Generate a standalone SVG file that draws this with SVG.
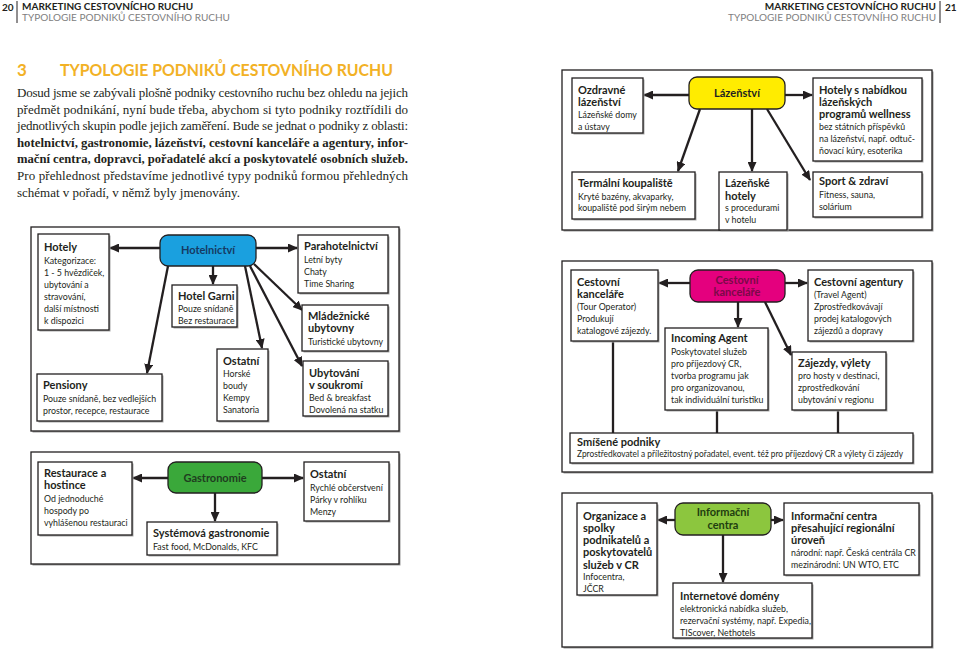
<svg xmlns="http://www.w3.org/2000/svg" width="960" height="656" viewBox="0 0 960 656">
<defs>
<marker id="ah" markerUnits="userSpaceOnUse" markerWidth="10" markerHeight="9" refX="9" refY="4.5" orient="auto">
<path d="M0,0 L10,4.5 L0,9 z" fill="#231f20"/>
</marker>
</defs>
<style>
.frame{fill:#fff;stroke:#231f20;stroke-width:1.3}
.fsh{fill:#9a9a9a}
.box{fill:#fff;stroke:#231f20;stroke-width:1.3}
.sh{fill:#a8a8a8}
.hub{stroke:#231f20;stroke-width:1.3}
.t{font-family:Lato,"Liberation Sans",sans-serif;font-size:11px;font-weight:bold;fill:#231f20}
.b{font-family:Lato,"Liberation Sans",sans-serif;font-size:8.8px;fill:#231f20}
.ht{font-family:Lato,"Liberation Sans",sans-serif;font-size:11px;font-weight:bold;text-anchor:middle}
.con line,.con path{stroke:#231f20;stroke-width:2.3;fill:none}
.arr{marker-end:url(#ah)}
.hdr{font-family:Lato,"Liberation Sans",sans-serif;font-size:10px;font-weight:bold;fill:#231f20}
.hdr2{font-family:Lato,"Liberation Sans",sans-serif;font-size:10px;fill:#808080}
.p{font-family:"Liberation Serif",serif;font-size:13px;fill:#231f20}
.pb{font-family:"Liberation Serif",serif;font-size:13px;font-weight:bold;fill:#231f20}
</style>
<rect width="960" height="656" fill="#fff"/>

<!-- header -->
<g id="header">
<text x="2" y="11" class="hdr" font-size="11">20</text>
<line x1="17" y1="1" x2="17" y2="23" stroke="#231f20" stroke-width="1"/>
<text x="22" y="10" class="hdr">MARKETING CESTOVNÍCHO RUCHU</text>
<text x="22" y="21" class="hdr2">TYPOLOGIE PODNIKŮ CESTOVNÍHO RUCHU</text>
<text x="936" y="10" class="hdr" text-anchor="end">MARKETING CESTOVNÍCHO RUCHU</text>
<text x="936" y="21" class="hdr2" text-anchor="end">TYPOLOGIE PODNIKŮ CESTOVNÍHO RUCHU</text>
<line x1="940" y1="1" x2="940" y2="23" stroke="#231f20" stroke-width="1"/>
<text x="945" y="11" class="hdr" font-size="11">21</text>
</g>

<!-- title and paragraph -->
<g id="intro">
<text x="17" y="76" font-family="Lato,'Liberation Sans',sans-serif" font-size="17" font-weight="bold" fill="#f2b125">3</text>
<text x="60" y="76" font-family="Lato,'Liberation Sans',sans-serif" font-size="17" font-weight="bold" fill="#f2b125" textLength="333" lengthAdjust="spacingAndGlyphs">TYPOLOGIE PODNIKŮ CESTOVNÍHO RUCHU</text>
<text x="17" y="97" class="p" textLength="391">Dosud jsme se zabývali plošně podniky cestovního ruchu bez ohledu na jejich</text>
<text x="17" y="114" class="p" textLength="391">předmět podnikání, nyní bude třeba, abychom si tyto podniky roztřídili do</text>
<text x="17" y="130" class="p" textLength="391">jednotlivých skupin podle jejich zaměření. Bude se jednat o podniky z oblasti:</text>
<text x="17" y="147" class="pb" textLength="391" lengthAdjust="spacingAndGlyphs">hotelnictví, gastronomie, lázeňství, cestovní kanceláře a agentury, infor-</text>
<text x="17" y="163" class="pb" textLength="391" lengthAdjust="spacingAndGlyphs">mační centra, dopravci, pořadatelé akcí a poskytovatelé osobních služeb.</text>
<text x="17" y="180" class="p" textLength="391">Pro přehlednost představíme jednotlivé typy podniků formou přehledných</text>
<text x="17" y="197" class="p">schémat v pořadí, v němž byly jmenovány.</text>
</g>

<!-- frames -->
<g id="frames">
<rect x="32.5" y="228.5" width="368" height="204" class="fsh"/>
<rect x="31" y="227" width="368" height="204" class="frame"/>
<rect x="32.5" y="453.5" width="368" height="112" class="fsh"/>
<rect x="31" y="452" width="368" height="112" class="frame"/>
<rect x="563.5" y="71.5" width="370" height="160" class="fsh"/>
<rect x="562" y="70" width="370" height="160" class="frame"/>
<rect x="563.5" y="262.5" width="370" height="211" class="fsh"/>
<rect x="562" y="261" width="370" height="211" class="frame"/>
<rect x="563.5" y="494.5" width="370" height="154" class="fsh"/>
<rect x="562" y="493" width="370" height="154" class="frame"/>
</g>

<!-- connectors -->
<g id="connectors" class="con">
<line x1="160" y1="248" x2="110" y2="248" class="arr"/>
<line x1="256" y1="248" x2="297" y2="248" class="arr"/>
<line x1="213" y1="266" x2="213" y2="284" class="arr"/>
<line x1="168" y1="266" x2="147" y2="373" class="arr"/>
<line x1="245" y1="266" x2="262" y2="348" class="arr"/>
<line x1="250" y1="266" x2="302" y2="366" class="arr"/>
<line x1="254" y1="264" x2="302" y2="310" class="arr"/>
<line x1="168" y1="478" x2="133" y2="478" class="arr"/>
<line x1="262" y1="478" x2="303" y2="478" class="arr"/>
<line x1="215" y1="493" x2="215" y2="521" class="arr"/>
<line x1="689" y1="95" x2="644" y2="95" class="arr"/>
<line x1="785" y1="95" x2="812" y2="95" class="arr"/>
<line x1="700" y1="109" x2="678" y2="171" class="arr"/>
<line x1="752" y1="109" x2="752" y2="171" class="arr"/>
<line x1="767" y1="109" x2="810" y2="180" class="arr"/>
<line x1="690" y1="283" x2="659" y2="283" class="arr"/>
<line x1="785" y1="283" x2="807" y2="283" class="arr"/>
<line x1="738" y1="302" x2="738" y2="327" class="arr"/>
<line x1="765" y1="302" x2="791" y2="355" class="arr"/>
<line x1="613" y1="341" x2="613" y2="433"/>
<line x1="717" y1="410" x2="717" y2="433"/>
<line x1="838" y1="410" x2="838" y2="433"/>
<line x1="675" y1="520" x2="658" y2="520" class="arr"/>
<line x1="771" y1="520" x2="783" y2="520" class="arr"/>
<line x1="723" y1="535" x2="723" y2="582" class="arr"/>
</g>

<!-- Hotelnictví diagram -->
<g id="hotelnictvi">
<rect x="160" y="235" width="96" height="31" rx="8" fill="#1aa0df" class="hub"/>
<text x="208" y="254" class="ht" fill="#163a63">Hotelnictví</text>
</g>
<g id="hotely">
<rect x="39.5" y="235.5" width="71" height="96" class="sh"/>
<rect x="38" y="234" width="71" height="96" class="box"/>
<text x="44" y="251" class="t">Hotely</text>
<text x="44" y="264" class="b">Kategorizace:</text>
<text x="44" y="276" class="b">1 - 5 hvězdiček,</text>
<text x="44" y="288" class="b">ubytování a</text>
<text x="44" y="300" class="b">stravování,</text>
<text x="44" y="312" class="b">další místnosti</text>
<text x="44" y="324" class="b">k dispozici</text>
</g>
<g id="hotel-garni">
<rect x="173.5" y="286.5" width="65" height="42" class="sh"/>
<rect x="172" y="285" width="65" height="42" class="box"/>
<text x="178" y="300" class="t">Hotel Garni</text>
<text x="178" y="312" class="b">Pouze snídaně</text>
<text x="178" y="324" class="b">Bez restaurace</text>
</g>
<g id="pensiony">
<rect x="38.5" y="375.5" width="125" height="47" class="sh"/>
<rect x="37" y="374" width="125" height="47" class="box"/>
<text x="43" y="389" class="t">Pensiony</text>
<text x="43" y="402" class="b">Pouze snídaně, bez vedlejších</text>
<text x="43" y="414" class="b">prostor, recepce, restaurace</text>
</g>
<g id="ostatni-h">
<rect x="218.5" y="350.5" width="51" height="72" class="sh"/>
<rect x="217" y="349" width="51" height="72" class="box"/>
<text x="223" y="365" class="t">Ostatní</text>
<text x="223" y="377" class="b">Horské</text>
<text x="223" y="389" class="b">boudy</text>
<text x="223" y="401" class="b">Kempy</text>
<text x="223" y="413" class="b">Sanatoria</text>
</g>
<g id="parahotelnictvi">
<rect x="299.5" y="236.5" width="90" height="58" class="sh"/>
<rect x="298" y="235" width="90" height="58" class="box"/>
<text x="304" y="250" class="t">Parahotelnictví</text>
<text x="304" y="263" class="b">Letní byty</text>
<text x="304" y="275" class="b">Chaty</text>
<text x="304" y="287" class="b">Time Sharing</text>
</g>
<g id="mladeznicke">
<rect x="303.5" y="306.5" width="86" height="46" class="sh"/>
<rect x="302" y="305" width="86" height="46" class="box"/>
<text x="308" y="320" class="t">Mládežnické</text>
<text x="308" y="332" class="t">ubytovny</text>
<text x="308" y="345" class="b">Turistické ubytovny</text>
</g>
<g id="ubytovani">
<rect x="304.5" y="362.5" width="85" height="55" class="sh"/>
<rect x="303" y="361" width="85" height="55" class="box"/>
<text x="309" y="377" class="t">Ubytování</text>
<text x="309" y="389" class="t">v soukromí</text>
<text x="309" y="401" class="b">Bed &amp; breakfast</text>
<text x="309" y="413" class="b">Dovolená na statku</text>
</g>

<!-- Gastronomie diagram -->
<g id="gastronomie">
<rect x="168" y="462" width="94" height="31" rx="8" fill="#3aa83a" class="hub"/>
<text x="215" y="482" class="ht" fill="#1f3d1f">Gastronomie</text>
</g>
<g id="restaurace">
<rect x="39.5" y="463.5" width="94" height="73" class="sh"/>
<rect x="38" y="462" width="94" height="73" class="box"/>
<text x="44" y="477" class="t">Restaurace a</text>
<text x="44" y="489" class="t">hostince</text>
<text x="44" y="502" class="b">Od jednoduché</text>
<text x="44" y="514" class="b">hospody po</text>
<text x="44" y="526" class="b">vyhlášenou restauraci</text>
</g>
<g id="ostatni-g">
<rect x="305.5" y="463.5" width="85" height="59" class="sh"/>
<rect x="304" y="462" width="85" height="59" class="box"/>
<text x="310" y="478" class="t">Ostatní</text>
<text x="310" y="491" class="b">Rychlé občerstvení</text>
<text x="310" y="503" class="b">Párky v rohlíku</text>
<text x="310" y="515" class="b">Menzy</text>
</g>
<g id="systemova">
<rect x="148.5" y="523.5" width="130" height="33" class="sh"/>
<rect x="147" y="522" width="130" height="33" class="box"/>
<text x="153" y="537" class="t">Systémová gastronomie</text>
<text x="153" y="550" class="b">Fast food, McDonalds, KFC</text>
</g>

<!-- Lázeňství diagram -->
<g id="lazenstvi">
<rect x="689" y="77" width="96" height="32" rx="8" fill="#ffec00" class="hub"/>
<text x="737" y="97" class="ht" fill="#231f20">Lázeňství</text>
</g>
<g id="ozdravne">
<rect x="573.5" y="79.5" width="71" height="55" class="sh"/>
<rect x="572" y="78" width="71" height="55" class="box"/>
<text x="578" y="94" class="t">Ozdravné</text>
<text x="578" y="106" class="t">lázeňství</text>
<text x="578" y="118" class="b">Lázeňské domy</text>
<text x="578" y="130" class="b">a ústavy</text>
</g>
<g id="hotely-wellness">
<rect x="814.5" y="79.5" width="109" height="83" class="sh"/>
<rect x="813" y="78" width="109" height="83" class="box"/>
<text x="819" y="94" class="t">Hotely s nabídkou</text>
<text x="819" y="106" class="t">lázeňských</text>
<text x="819" y="118" class="t">programů wellness</text>
<text x="819" y="130" class="b">bez státních příspěvků</text>
<text x="819" y="142" class="b">na lázeňství, např. odtuč-</text>
<text x="819" y="154" class="b">ňovací kúry, esoterika</text>
</g>
<g id="termalni">
<rect x="573.5" y="173.5" width="123" height="47" class="sh"/>
<rect x="572" y="172" width="123" height="47" class="box"/>
<text x="578" y="187" class="t">Termální koupaliště</text>
<text x="578" y="200" class="b">Kryté bazény, akvaparky,</text>
<text x="578" y="211" class="b">koupaliště pod širým nebem</text>
</g>
<g id="lazenske-hotely">
<rect x="720.5" y="173.5" width="68" height="58" class="sh"/>
<rect x="719" y="172" width="68" height="58" class="box"/>
<text x="725" y="187" class="t">Lázeňské</text>
<text x="725" y="200" class="t">hotely</text>
<text x="725" y="211" class="b">s procedurami</text>
<text x="725" y="223" class="b">v hotelu</text>
</g>
<g id="sport">
<rect x="814.5" y="173.5" width="109" height="45" class="sh"/>
<rect x="813" y="172" width="109" height="45" class="box"/>
<text x="819" y="185" class="t" font-size="9.5">Sport &amp; zdraví</text>
<text x="819" y="198" class="b">Fitness, sauna,</text>
<text x="819" y="210" class="b">solárium</text>
</g>

<!-- Cestovní kanceláře diagram -->
<g id="ck-hub">
<rect x="690" y="270" width="95" height="32" rx="8" fill="#e4007e" class="hub"/>
<text x="737" y="284" class="ht" fill="#7a0a48">Cestovní</text>
<text x="737" y="296" class="ht" fill="#7a0a48">kanceláře</text>
</g>
<g id="ck-operator">
<rect x="572.5" y="271.5" width="87" height="71" class="sh"/>
<rect x="571" y="270" width="87" height="71" class="box"/>
<text x="577" y="286" class="t">Cestovní</text>
<text x="577" y="298" class="t">kanceláře</text>
<text x="577" y="310" class="b">(Tour Operator)</text>
<text x="577" y="322" class="b">Produkují</text>
<text x="577" y="334" class="b">katalogové zájezdy.</text>
</g>
<g id="agentury">
<rect x="809.5" y="271.5" width="105" height="71" class="sh"/>
<rect x="808" y="270" width="105" height="71" class="box"/>
<text x="814" y="286" class="t">Cestovní agentury</text>
<text x="814" y="298" class="b">(Travel Agent)</text>
<text x="814" y="310" class="b">Zprostředkovávají</text>
<text x="814" y="322" class="b">prodej katalogových</text>
<text x="814" y="334" class="b">zájezdů a dopravy</text>
</g>
<g id="incoming">
<rect x="666.5" y="329.5" width="103" height="82" class="sh"/>
<rect x="665" y="328" width="103" height="82" class="box"/>
<text x="671" y="342" class="t">Incoming Agent</text>
<text x="671" y="355" class="b">Poskytovatel služeb</text>
<text x="671" y="367" class="b">pro příjezdový CR,</text>
<text x="671" y="379" class="b">tvorba programu jak</text>
<text x="671" y="391" class="b">pro organizovanou,</text>
<text x="671" y="403" class="b">tak individuální turistiku</text>
</g>
<g id="zajezdy">
<rect x="793.5" y="353.5" width="94" height="58" class="sh"/>
<rect x="792" y="352" width="94" height="58" class="box"/>
<text x="798" y="367" class="t">Zájezdy, výlety</text>
<text x="798" y="379" class="b">pro hosty v destinaci,</text>
<text x="798" y="391" class="b">zprostředkování</text>
<text x="798" y="403" class="b">ubytování v regionu</text>
</g>
<g id="smisene">
<rect x="571.5" y="434.5" width="343" height="30" class="sh"/>
<rect x="570" y="433" width="343" height="30" class="box"/>
<text x="577" y="446" class="t">Smíšené podniky</text>
<text x="577" y="457" class="b" textLength="326" lengthAdjust="spacingAndGlyphs">Zprostředkovatel a příležitostný pořadatel, event. též pro příjezdový CR a výlety či zájezdy</text>
</g>

<!-- Informační centra diagram -->
<g id="ic-hub">
<rect x="675" y="503" width="96" height="32" rx="8" fill="#8cc63e" class="hub"/>
<text x="723" y="516" class="ht" fill="#1f3d10">Informační</text>
<text x="723" y="529" class="ht" fill="#1f3d10">centra</text>
</g>
<g id="organizace">
<rect x="578.5" y="504.5" width="80" height="92" class="sh"/>
<rect x="577" y="503" width="80" height="92" class="box"/>
<text x="583" y="520" class="t">Organizace a</text>
<text x="583" y="532" class="t">spolky</text>
<text x="583" y="544" class="t">podnikatelů a</text>
<text x="583" y="556" class="t">poskytovatelů</text>
<text x="583" y="569" class="t">služeb v CR</text>
<text x="583" y="580" class="b">Infocentra,</text>
<text x="583" y="592" class="b">JČCR</text>
</g>
<g id="ic-nadregionalni">
<rect x="785.5" y="504.5" width="135" height="72" class="sh"/>
<rect x="784" y="503" width="135" height="72" class="box"/>
<text x="791" y="520" class="t">Informační centra</text>
<text x="791" y="532" class="t">přesahující regionální</text>
<text x="791" y="544" class="t">úroveň</text>
<text x="791" y="556" class="b">národní: např. Česká centrála CR</text>
<text x="791" y="568" class="b">mezinárodní: UN WTO, ETC</text>
</g>
<g id="internetove">
<rect x="674.5" y="584.5" width="139" height="55" class="sh"/>
<rect x="673" y="583" width="139" height="55" class="box"/>
<text x="680" y="600" class="t">Internetové domény</text>
<text x="680" y="612" class="b">elektronická nabídka služeb,</text>
<text x="680" y="624" class="b">rezervační systémy, např. Expedia,</text>
<text x="680" y="636" class="b">TIScover, Nethotels</text>
</g>
</svg>
